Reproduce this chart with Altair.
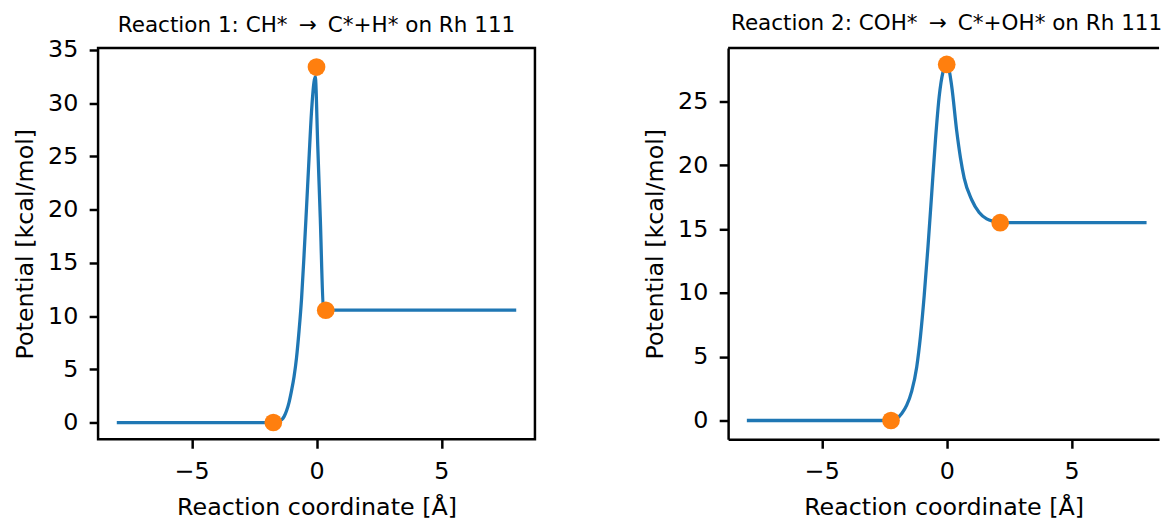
import altair as alt
import pandas as pd

# ---- Reaction 1 data ----
r1_title = "Reaction 1: CH* \u2009\u2192\u2009 C*+H* on Rh 111"
r1_curve_x = [-8.0, -4.0, -2.5, -2.0, -1.75, -1.6, -1.5, -1.4, -1.3, -1.2, -1.1, -1.0,
              -0.9, -0.8, -0.7, -0.6, -0.5, -0.4, -0.3, -0.2, -0.1, -0.05,
              0.05, 0.15, 0.28, 0.37, 1.0, 4.0, 8.0]
r1_curve_y = [0.0, 0.0, 0.0, 0.0, 0.02, 0.06, 0.12, 0.25, 0.55, 1.1, 1.9, 3.0,
              4.3, 6.1, 8.6, 11.6, 15.7, 20.2, 24.8, 29.2, 32.0, 32.5,
              26.0, 19.3, 10.7, 10.55, 10.55, 10.55, 10.55]
r1_pts_x = [-1.73, 0.0, 0.37]
r1_pts_y = [0.0, 33.4, 10.55]
r1_yticks = [0, 5, 10, 15, 20, 25, 30, 35]

# ---- Reaction 2 data ----
r2_title = "Reaction 2: COH* \u2009\u2192\u2009 C*+OH* on Rh 111"
r2_curve_x = [-8.0, -3.0, -2.25, -2.0, -1.8, -1.6, -1.4, -1.2, -1.05, -0.9, -0.75,
              -0.6, -0.45, -0.3, -0.15, -0.03, 0.05, 0.2, 0.4, 0.55, 0.7, 1.0,
              1.3, 1.6, 1.9, 2.14, 3.0, 8.0]
r2_curve_y = [0.0, 0.0, 0.02, 0.15, 0.55, 1.2, 2.3, 4.2, 6.6, 9.8, 13.6,
              17.8, 22.0, 25.4, 27.3, 27.9, 27.8, 26.2, 22.7, 20.6, 19.0, 17.3,
              16.3, 15.8, 15.6, 15.5, 15.5, 15.5]
r2_pts_x = [-2.23, 0.0, 2.14]
r2_pts_y = [0.0, 27.9, 15.5]
r2_yticks = [0, 5, 10, 15, 20, 25]

x_ticks = [-5, 0, 5]
x_title = "Reaction coordinate [\u00c5]"
y_title = "Potential [kcal/mol]"

LINE_C = "#1f77b4"
PT_C = "#ff7f0e"


def panel(cx, cy, px, py, title, yticks, xdom, ydom, width, boxed, dx=0, offset=16):
    line_df = pd.DataFrame({"x": cx, "y": cy})
    pts_df = pd.DataFrame({"x": px, "y": py})
    ax_kw = {} if boxed else dict(domain=True, domainColor="black", domainWidth=2.5)
    x = alt.X("x:Q", scale=alt.Scale(domain=xdom, nice=False, zero=False),
              axis=alt.Axis(values=x_ticks, title=x_title, titlePadding=12.5, **ax_kw))
    y = alt.Y("y:Q", scale=alt.Scale(domain=ydom, nice=False, zero=False),
              axis=alt.Axis(values=yticks, title=y_title, **ax_kw))
    line = alt.Chart(line_df).mark_line(color=LINE_C, strokeWidth=3.3,
                                        interpolate="monotone").encode(x=x, y=y)
    pts = alt.Chart(pts_df).mark_circle(color=PT_C, size=320, opacity=1).encode(x=x, y=y)
    layers = [line, pts]
    props = dict(width=width, height=395,
                 title=alt.TitleParams(title, dx=dx, frame="group", offset=offset))
    if not boxed:
        top = alt.Chart(pd.DataFrame({"a": [0]})).mark_rule(
            color="black", strokeWidth=2.5).encode(
            x=alt.value(0), x2=alt.value(width), y=alt.value(0))
        layers.append(top)
        props["view"] = alt.ViewBackground(stroke="transparent")
    return alt.layer(*layers).properties(**props)


p1 = panel(r1_curve_x, r1_curve_y, r1_pts_x, r1_pts_y, r1_title, r1_yticks,
           [-8.75, 8.75], [-1.58, 35.19], 441, True, offset=2)
p2 = panel(r2_curve_x, r2_curve_y, r2_pts_x, r2_pts_y, r2_title, r2_yticks,
           [-8.75, 8.5], [-1.475, 29.19], 435, False, dx=3, offset=12)

chart = alt.hconcat(p1, p2, spacing=106).properties(
    padding={"left": 12, "top": 9, "right": 0, "bottom": 0},
    background="white",
).configure_axis(
    labelFont="DejaVu Sans", labelFontSize=24, labelColor="black",
    titleFont="DejaVu Sans", titleFontSize=24, titleFontWeight="normal",
    titleColor="black", tickColor="black", tickSize=9, tickWidth=2.5,
    labelPadding=11.5, titlePadding=10, grid=False, domain=False,
).configure_view(
    stroke="black", strokeWidth=2.5,
).configure_title(
    font="DejaVu Sans", fontSize=21.7, fontWeight="normal", color="black",
    baseline="alphabetic", anchor="middle",
)

chart.save("out.html", embed_options={"renderer": "svg", "actions": False})
